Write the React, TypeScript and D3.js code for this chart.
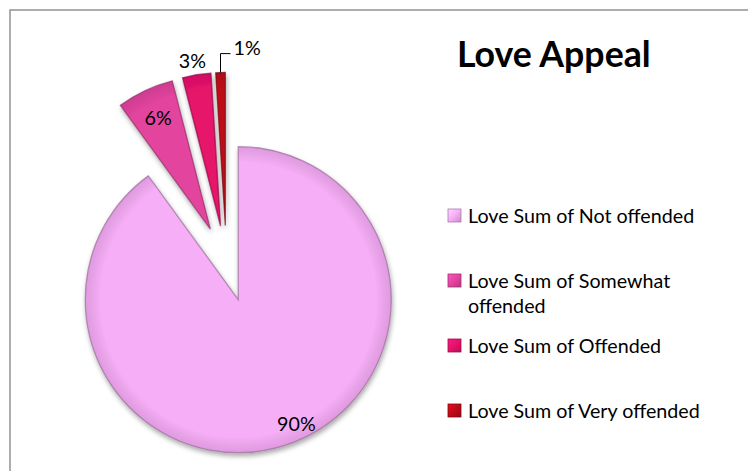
import React from 'react';
import * as d3 from 'd3';

const categories = ['Love Sum of Not offended', 'Love Sum of Somewhat offended', 'Love Sum of Offended', 'Love Sum of Very offended'];
const values = [90, 6, 3, 1];
const valueLabels = ['90%', '6%', '3%', '1%'];
const title = 'Love Appeal';

const colors = ['#F6AEF6', '#E3449E', '#E6126B', '#BD0A16'];
const W = 748, H = 471;
const cx = 226.5, cy = 263.5, R = 153, EXPLODE = 38;
const FONT = 'Lato, "Open Sans", sans-serif';
const labelStyle = [
  { shift: -7, rf: 0.9, leader: false },
  { shift: 0, rf: 0.8, leader: false },
  { shift: -0.7, rf: 1.09, leader: false },
  { shift: 0, rf: 1, leader: true },
];

function wrap(s: string, max: number): string[] {
  if (s.length <= max) return [s];
  const i = s.lastIndexOf(' ', max);
  return [s.slice(0, i), s.slice(i + 1)];
}

export default function App() {
  const pie = d3.pie<number>().sort(null).value(d => d)(values);
  const arc = d3.arc<d3.PieArcDatum<number>>().innerRadius(0).outerRadius(R);

  const slices = pie.map((p, i) => {
    const b = (p.startAngle + p.endAngle) / 2;
    const vx = cx + Math.sin(b) * EXPLODE;
    const vy = cy - Math.cos(b) * EXPLODE;
    return { p, i, b, vx, vy };
  });

  return (
    <svg width={W} height={H} style={{ position: 'absolute', left: 0, top: 0, background: '#fff' }}>
      <defs>
        <filter id="sh" x="-20%" y="-20%" width="140%" height="140%">
          <feDropShadow dx="1" dy="3" stdDeviation="2.5" floodColor="#000" floodOpacity="0.35" />
        </filter>
        <radialGradient id="bev" cx="0" cy="0" r={R} gradientUnits="userSpaceOnUse">
          <stop offset="0.9" stopColor="#000" stopOpacity="0" />
          <stop offset="1" stopColor="#400040" stopOpacity="0.12" />
        </radialGradient>
        {colors.map((c, i) => (
          <linearGradient key={i} id={`lg${i}`} x1="0" y1="0" x2="1" y2="1">
            <stop offset="0" stopColor={d3.color(c)!.brighter(0.6).toString()} />
            <stop offset="0.5" stopColor={c} />
            <stop offset="1" stopColor={d3.color(c)!.darker(0.6).toString()} />
          </linearGradient>
        ))}
      </defs>
      <rect x={10} y={10} width={W + 20} height={H + 20} fill="none" stroke="#939393" strokeWidth={1.5} />
      <g filter="url(#sh)">
        {slices.map(s => (
          <g key={s.i} transform={`translate(${s.vx},${s.vy})`}>
            <path d={arc(s.p)!} fill={colors[s.i]} />
            <path d={arc(s.p)!} fill="url(#bev)"
              stroke={d3.color(colors[s.i])!.darker(1.4).toString()} strokeOpacity={0.65} strokeWidth={1.3} />
          </g>
        ))}
      </g>
      {slices.map(s => {
        const st = labelStyle[s.i];
        if (st.leader) {
          const x0 = s.vx + Math.sin(s.b) * R, y0 = s.vy - Math.cos(s.b) * R;
          const y1 = y0 - 19, x1 = x0 + 10;
          return (
            <g key={s.i}>
              <path d={`M${x0},${y0}V${y1}H${x1}`} fill="none" stroke="#000" strokeWidth={1} />
              <text x={x1 + 3} y={y1 + 1} fontFamily={FONT} fontSize={19.7} fill="#000">{valueLabels[s.i]}</text>
            </g>
          );
        }
        const a = s.b + (st.shift * Math.PI) / 180;
        const x = s.vx + Math.sin(a) * R * st.rf;
        const y = s.vy - Math.cos(a) * R * st.rf;
        return (
          <text key={s.i} x={x} y={y} dy="0.35em" textAnchor="middle" fontFamily={FONT} fontSize={19.7} fill="#000">{valueLabels[s.i]}</text>
        );
      })}
      <text x={457} y={67} fontFamily={FONT} fontWeight="bold" fontSize={35.7} fill="#000">{title}</text>
      {categories.map((c, i) => {
        const base = 223 + i * 65;
        const lines = wrap(c, 26);
        return (
          <g key={i}>
            <rect x={448} y={base - 14} width={13} height={13} fill={`url(#lg${i})`} stroke={d3.color(colors[i])!.darker(1).toString()} strokeWidth={0.8} />
            <text x={468} y={base} fontFamily={FONT} fontSize={19.7} fill="#000">
              {lines.map((l, j) => (
                <tspan key={j} x={468} y={base + j * 25}>{l}</tspan>
              ))}
            </text>
          </g>
        );
      })}
    </svg>
  );
}
